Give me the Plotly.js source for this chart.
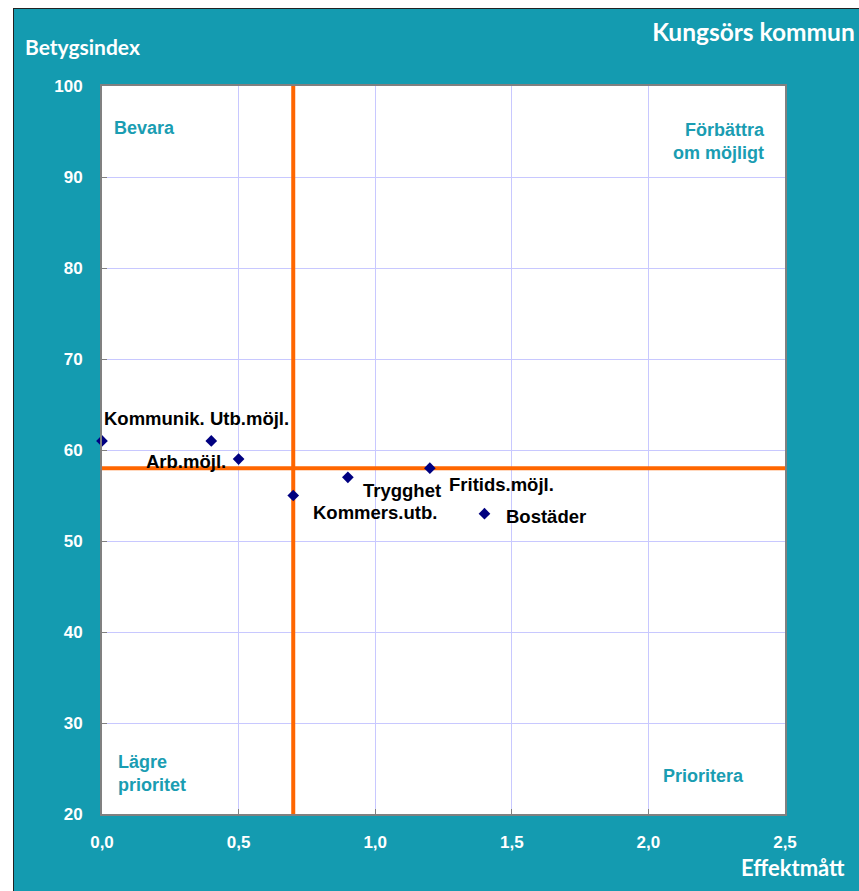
<!DOCTYPE html>
<html>
<head>
<meta charset="utf-8">
<script src="https://cdn.plot.ly/plotly-3.0.1.min.js"></script>
<style>
html,body{margin:0;padding:0;background:#ffffff;}
#chart{position:absolute;left:13px;top:8px;width:845px;height:882px;border-left:1px solid #222;border-top:1px solid #222;}
</style>
</head>
<body>
<div id="chart"></div>
<script>
// Data
const labels = ["Kommunik.", "Utb.möjl.", "Arb.möjl.", "Kommers.utb.", "Trygghet", "Fritids.möjl.", "Bostäder"];
const effekt = [0.0, 0.4, 0.5, 0.7, 0.9, 1.2, 1.4];
const betyg  = [61, 61, 59, 55, 57, 58, 53];
const refEffekt = 0.7;
const refBetyg = 58;
const xTickVals = [0, 0.5, 1.0, 1.5, 2.0, 2.5];
const xTickText = ["0,0", "0,5", "1,0", "1,5", "2,0", "2,5"];
const yTickVals = [20, 30, 40, 50, 60, 70, 80, 90, 100];
const quadrantLabels = ["Bevara", "Förbättra<br>om möjligt", "Lägre<br>prioritet", "Prioritera"];

// label placement (styling)
const labelShift = [
  {xs: 0, ys: 22, xa: 'left'},
  {xs: -3, ys: 22, xa: 'left'},
  {xs: -11, ys: -2, xa: 'right'},
  {xs: 18, ys: -17, xa: 'left'},
  {xs: 13, ys: -13, xa: 'left'},
  {xs: 17, ys: -16, xa: 'left'},
  {xs: 20, ys: -3, xa: 'left'}
];

const teal = '#149bb0';
const quadColor = '#1a9db2';
const labelFont = {family: 'Liberation Sans, Arial, sans-serif', size: 18.5, color: '#000000'};
const quadFont = {family: 'Liberation Sans, Arial, sans-serif', size: 18, color: quadColor};
const titleFamily = 'Lato, "Open Sans", sans-serif';

const traces = [
  {x: [refEffekt, refEffekt], y: [20, 100], mode: 'lines', line: {color: '#ff6600', width: 4}, hoverinfo: 'skip', showlegend: false},
  {x: [0, 2.5], y: [refBetyg, refBetyg], mode: 'lines', line: {color: '#ff6600', width: 4}, hoverinfo: 'skip', showlegend: false},
  {x: effekt, y: betyg, mode: 'markers', marker: {symbol: 'diamond', size: 9, color: '#000080'}, showlegend: false, cliponaxis: false}
];

const annotations = labels.map((t, i) => ({
  x: effekt[i], y: betyg[i], xref: 'x', yref: 'y', text: '<b>' + t + '</b>', showarrow: false,
  xanchor: labelShift[i].xa, yanchor: 'middle', xshift: labelShift[i].xs, yshift: labelShift[i].ys, font: labelFont
}));

const quadPos = [
  {x: 0.014, y: 0.942, xa: 'left', al: 'left'},
  {x: 0.974, y: 0.924, xa: 'right', al: 'right'},
  {x: 0.02, y: 0.056, xa: 'left', al: 'left'},
  {x: 0.818, y: 0.052, xa: 'left', al: 'left'}
];
quadrantLabels.forEach((t, i) => {
  annotations.push({x: quadPos[i].x, y: quadPos[i].y, xref: 'paper', yref: 'paper', text: '<b>' + t + '</b>', showarrow: false,
    xanchor: quadPos[i].xa, yanchor: 'middle', align: quadPos[i].al, font: quadFont});
});

annotations.push({x: -0.116, y: 1.054, xref: 'paper', yref: 'paper', text: '<b>Betygsindex</b>', showarrow: false,
  xanchor: 'left', yanchor: 'middle', font: {family: titleFamily, size: 21, color: '#ffffff'}});
annotations.push({x: 1.091, y: -0.074, xref: 'paper', yref: 'paper', text: '<b>Effektmått</b>', showarrow: false,
  xanchor: 'right', yanchor: 'middle', font: {family: titleFamily, size: 22, color: '#ffffff'}});

const layout = {
  width: 845, height: 882,
  margin: {l: 88, r: 74, t: 77, b: 77, pad: 0},
  paper_bgcolor: teal,
  plot_bgcolor: '#ffffff',
  title: {text: '<b>Kungsörs kommun</b>', x: 0.995, xanchor: 'right', xref: 'container', y: 0.974, yanchor: 'middle', yref: 'container',
    font: {family: titleFamily, size: 24.5, color: '#ffffff'}},
  xaxis: {range: [0, 2.5], tickvals: xTickVals, ticktext: xTickText, showgrid: true, gridcolor: '#c8c8ff', gridwidth: 1,
    zeroline: false, showline: true, linecolor: '#808080', linewidth: 2, mirror: true,
    ticks: 'inside', ticklen: 5, tickcolor: '#808080', tickwidth: 1, ticklabelstandoff: 12,
    tickfont: {family: 'Liberation Sans, Arial, sans-serif', size: 17, color: '#ffffff', weight: 'bold'}},
  yaxis: {range: [20, 100], tickvals: yTickVals, showgrid: true, gridcolor: '#c8c8ff', gridwidth: 1,
    zeroline: false, showline: true, linecolor: '#808080', linewidth: 2, mirror: true,
    ticks: 'inside', ticklen: 5, tickcolor: '#808080', tickwidth: 1, ticklabelstandoff: 14,
    tickfont: {family: 'Liberation Sans, Arial, sans-serif', size: 17, color: '#ffffff', weight: 'bold'}},
  annotations: annotations,
  showlegend: false
};

Plotly.newPlot('chart', traces, layout, {displayModeBar: false, staticPlot: true});
</script>
</body>
</html>
